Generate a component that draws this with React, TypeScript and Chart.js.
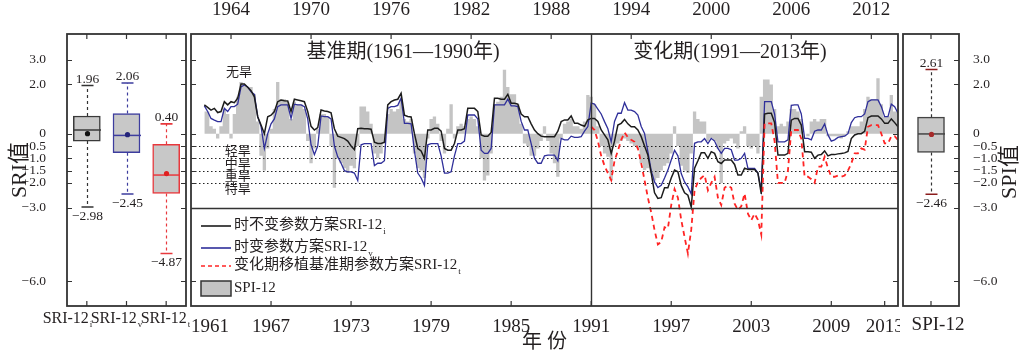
import React, { useEffect, useRef } from 'react';
import { Chart, registerables } from 'chart.js';

Chart.register(...registerables);

const FONT = "'Liberation Serif', 'Noto Sans CJK SC', serif";
const INK = '#231f20';
const FRAME = '#333333';
const BLACK = '#1c1c1c';
const BLUE = '#2f2f9a';
const RED = '#ff2424';
const GRAY = '#c4c4c4';
const BOX_FILL = '#c8c8c8';

Chart.defaults.font.family = FONT;
Chart.defaults.color = INK;

const f = (size: number) => ({ family: FONT, size });

// ---------- axes ----------
const Y_MIN = -7;
const Y_MAX = 4.05;
const yTickValues = [3, 2, 0, -0.5, -1, -1.5, -2, -3, -6];
const droughtLines = [-0.5, -1, -1.5, -2];
const extremeLine = -3;
const X_MIN = 1961;
const X_MAX = 2014;
const bottomYearTicks = [1961, 1967, 1973, 1979, 1985, 1991, 1997, 2003, 2009, 2013, 2014];
const topYearTicks = [1964, 1970, 1976, 1982, 1988, 1994, 2000, 2006, 2012];
const periodSplitYear = 1991;

// ---------- annotations ----------
const periodTitles = ['基准期(1961—1990年)', '变化期(1991—2013年)'];
const periodTitleYears = [1976.9, 2001.4];
const periodTitleLevel = 3.3;
const wetLabel = '无旱';
const wetLabelYear = 1964.6;
const wetLabelLevel = 2.5;
const droughtLabels = ['轻旱', '中旱', '重旱', '特旱'];
const droughtLabelYear = 1964.5;
const droughtLabelLevels = [-0.72, -1.24, -1.76, -2.26];

// ---------- time series (quarterly) ----------
const seriesStart = 1962;
const seriesStep = 0.25;
const sriInvariant = [
  1.17, 1.07, 0.96, 1.03,
  0.86, 0.90, 1.30, 1.17,
  1.30, 1.26, 1.44, 2.02,
  2.02, 1.89, 1.75, 1.50,
  0.69, 0.35, 0.00, 0.69,
  0.75, 0.90, 1.30, 1.37,
  1.34, 1.33, 0.90, 1.40,
  1.37, 1.34, 1.30, 0.90,
  0.30, 0.15, 0.25, 0.96,
  0.92, 0.90, 0.85, 0.20,
  -0.10, -0.15, -0.20, -0.30,
  -0.50, -0.65, 0.20, 0.22,
  0.20, 0.20, 0.18, -0.35,
  -0.40, -0.40, -0.35, 1.17,
  1.30, 1.37, 1.40, 1.64,
  0.75, 0.70, 0.68, 0.00,
  -0.60, -0.70, -1.00, 0.15,
  0.15, 0.22, 0.22, 0.10,
  -0.60, -0.67, -0.67, -0.40,
  0.15, 0.15, 0.20, 1.03,
  1.03, 1.03, 0.90, -0.05,
  -0.10, -0.10, 0.05, 1.44,
  1.44, 1.40, 1.40, 1.60,
  1.24, 1.24, 1.20, 0.80,
  0.69, 0.69, 0.40, 0.15,
  0.00, -0.10, -0.12, -0.12,
  -0.12, -0.12, 0.10, 0.49,
  0.56, 0.56, 0.72, 0.42,
  0.42, 0.35, 0.30, 0.56,
  0.62, 0.62, 0.50, 0.15,
  -0.05, -0.25, -0.80, -0.30,
  0.35, 0.42, 0.58, 0.40,
  0.28, 0.28, 0.15, -0.12,
  -0.50, -0.87, -1.60, -2.40,
  -2.63, -2.60, -2.20, -2.20,
  -1.80, -1.48, -1.55, -2.10,
  -2.40, -2.50, -2.98, -1.40,
  -1.10, -0.77, -0.77, -1.00,
  -0.73, -0.80, -1.14, -1.21,
  -1.07, -1.07, -1.07, -1.25,
  -1.68, -1.68, -1.40, -1.45,
  -1.45, -1.45, -1.60, -2.45,
  0.80, 0.83, 0.83, 0.45,
  -0.87, -0.87, -0.87, -0.80,
  0.55, 0.62, 0.62, 0.35,
  -0.73, -0.73, -0.75, -1.00,
  -0.87, -0.85, -0.70, -0.90,
  -0.85, -0.85, -0.82, -0.80,
  -0.78, -0.72, -0.20, -0.05,
  0.00, 0.00, 0.10, 0.65,
  0.72, 0.72, 0.72, 0.60,
  0.42, 0.42, 0.60, 0.45,
  0.28,
];
const sriVarying = [
  1.13, 0.90, 0.62, 0.55,
  0.49, 0.49, 1.03, 0.90,
  1.10, 1.10, 1.20, 1.90,
  1.98, 1.90, 1.70, 1.60,
  0.69, 0.30, -0.60, 0.00,
  0.40, 0.60, 1.10, 1.17,
  1.17, 1.17, 0.62, 1.20,
  1.17, 1.17, 1.10, 0.60,
  -0.45, -0.85, -0.50, 0.72,
  0.69, 0.69, 0.60, -0.50,
  -0.94, -1.20, -1.50, -1.55,
  -1.55, -1.60, -1.90, -0.45,
  -0.40, -0.40, -0.40, -1.30,
  -1.20, -1.20, -1.10, 1.03,
  1.10, 1.10, 1.15, 1.45,
  0.42, 0.42, 0.40, -0.70,
  -1.60, -1.80, -2.10, -0.45,
  -0.40, -0.40, -0.40, -0.90,
  -1.60, -1.60, -1.55, -0.90,
  -0.40, -0.40, -0.30, 0.76,
  0.76, 0.76, 0.60, -0.67,
  -0.80, -0.80, -0.60, 1.17,
  1.17, 1.17, 1.17, 1.40,
  1.13, 1.13, 1.10, 0.50,
  0.15, 0.15, -0.40, -1.00,
  -1.20, -1.20, -0.90, -0.87,
  -0.87, -0.87, -1.10, -0.19,
  -0.25, -0.25, -0.10, -0.15,
  -0.15, -0.12, 0.10, 0.29,
  1.24, 1.20, 1.00, 0.80,
  0.49, 0.20, -0.33, 0.50,
  0.83, 0.83, 1.26, 0.96,
  0.96, 0.90, 0.76, 0.29,
  0.01, -0.73, -1.50, -1.96,
  -2.19, -2.10, -1.80, -1.48,
  -1.07, -0.67, -0.90, -1.62,
  -1.96, -2.16, -2.45, -0.39,
  -0.33, -0.33, -0.20, -0.40,
  -0.19, -0.30, -0.60, -0.80,
  -0.60, -0.60, -0.65, -1.07,
  -1.07, -1.00, -0.80, -1.41,
  -1.41, -1.41, -1.60, -2.30,
  1.30, 1.30, 1.30, 0.80,
  -0.33, -0.33, -0.33, -0.25,
  1.15, 1.17, 1.17, 0.80,
  -0.19, -0.19, -0.25, 0.10,
  0.15, 0.15, 0.40, -0.05,
  -0.30, -0.25, -0.15, -0.12,
  -0.10, 0.00, 0.45, 0.65,
  0.69, 0.69, 0.80, 1.30,
  1.37, 1.37, 1.37, 1.10,
  0.69, 0.69, 1.20, 1.10,
  0.83,
];
const transplantStart = 1991;
const sriTransplant = [
  0.29, 0.15, -0.30, -0.90,
  -1.30, -1.60, -1.89, -1.10,
  -0.70, -0.25, 0.05, -0.15,
  -0.25, -0.33, -0.60, -1.20,
  -1.89, -2.60, -3.20, -3.92,
  -4.50, -4.40, -3.80, -3.85,
  -2.90, -2.25, -2.60, -3.50,
  -4.20, -4.87, -3.90, -2.30,
  -1.96, -1.80, -1.68, -2.30,
  -2.00, -1.75, -2.60, -2.90,
  -2.20, -2.10, -2.20, -2.84,
  -3.10, -2.95, -2.43, -3.25,
  -3.52, -3.25, -3.50, -4.10,
  0.42, 0.42, 0.42, -0.30,
  -2.00, -2.00, -2.00, -1.50,
  0.15, 0.15, 0.15, -0.20,
  -1.75, -1.75, -1.85, -2.00,
  -1.34, -1.34, -0.94, -1.40,
  -1.75, -1.75, -1.70, -1.75,
  -1.70, -1.50, -1.21, -0.80,
  -0.80, -0.60, -0.65, 0.28,
  0.35, 0.35, 0.35, 0.00,
  -0.39, -0.40, -0.10, -0.10,
  -0.26,
];
const spi12 = [
  0.9, 0.9, 0.3, 0.2,
  -0.2, 0.3, 1.0, 0.8,
  -0.2, 0.8, 1.5, 2.1,
  2.0, 1.9, 1.9, 1.6,
  0.5, -0.9, -1.5, -0.6,
  0.2, 1.0, 2.1, 1.4,
  1.4, 1.3, 0.6, 1.3,
  1.2, 1.2, 1.0, -0.3,
  -1.2, -0.6, 0.2, 0.8,
  0.8, 0.7, -0.5, -2.2,
  -1.0, -1.2, -1.4, -1.6,
  -1.3, -1.4, -0.5, 1.1,
  1.1, 0.9, 0.4, -0.8,
  -1.0, -0.8, -0.4, 0.8,
  1.0, 0.9, 1.0, 1.4,
  0.6, 0.5, 0.6, -0.8,
  -1.4, -1.5, -1.8, -0.2,
  0.6, 0.7, 0.4, -0.3,
  -0.8, 0.2, 1.2, -0.2,
  0.3, 0.4, 0.3, 0.6,
  0.7, 0.6, 0.3, -1.0,
  -1.9, -1.7, -0.8, 1.2,
  1.3, 1.5, 2.6, 1.9,
  1.6, 1.6, 1.2, 0.4,
  -0.4, -0.5, -0.9, -0.9,
  -0.6, -0.3, 0.3, -0.3,
  -0.8, -1.2, -1.75, -0.2,
  0.4, 0.5, 0.6, 0.3,
  0.3, 0.2, 0.5, 1.57,
  1.5, 1.2, 0.3, -0.5,
  -0.8, -0.94, -1.9, -0.5,
  -0.4, -0.3, -0.2, -0.3,
  -0.4, -0.5, -0.6, -1.2,
  -1.48, -1.4, -1.6, -1.9,
  -1.8, -1.5, -1.3, -1.2,
  -0.8, 0.3, -0.5, -1.3,
  -1.5, -1.6, -0.8, 0.9,
  0.6, 0.5, 0.5, -0.3,
  -0.2, -0.3, -0.6, -2.0,
  -0.4, -0.3, -0.2, -0.4,
  -0.6, 0.1, 0.3, -0.5,
  -0.6, -0.5, -0.8, 1.5,
  2.2, 2.2, 2.0, 1.0,
  0.3, 0.4, 0.3, 0.5,
  1.0, 1.0, 0.9, 0.6,
  0.0, -0.1, 0.5, 0.6,
  0.5, 0.6, 0.6, -0.1,
  -0.1, -0.1, -0.1, -0.2,
  -0.1, 0.1, 0.3, 0.3,
  0.3, 0.5, 1.0, 1.5,
  1.4, 1.4, 2.25, 1.2,
  0.7, 0.7, 1.57, 0.9,
  0.9,
];

// ---------- legend ----------
const legendNames = ['时不变参数方案SRI-12', '时变参数方案SRI-12', '变化期移植基准期参数方案SRI-12', 'SPI-12'];
const legendSubs = ['i', 'v', 't', ''];

// ---------- box plots ----------
const boxCategories = ['SRI-12', 'SRI-12', 'SRI-12'];
const boxSubs = ['i', 'v', 't'];
const boxMin = [-2.98, -2.45, -4.87];
const boxQ1 = [-0.30, -0.77, -2.43];
const boxMedian = [0.15, -0.07, -1.68];
const boxQ3 = [0.72, 0.82, -0.43];
const boxMax = [1.96, 2.06, 0.40];
const boxMean = [0.0, -0.04, -1.62];
const boxEdgeColors = ['#3a3a3a', '#3d3d9e', '#e8383d'];
const boxWhiskerColors = ['#333333', '#3d3d9e', '#e8383d'];
const boxCapColors = ['#333333', '#3d3d9e', '#e8383d'];
const boxMeanColors = ['#111111', '#24247a', '#e02020'];

const spiCategories = ['SPI-12'];
const spiMin = [-2.46];
const spiQ1 = [-0.76];
const spiMedian = [-0.01];
const spiQ3 = [0.67];
const spiMax = [2.61];
const spiMean = [-0.03];
const spiEdgeColors = ['#444444'];
const spiWhiskerColors = ['#333333'];
const spiCapColors = ['#8c1c1c'];
const spiMeanColors = ['#a52a2a'];

// ---------- helpers ----------
function toPoints(start: number, step: number, values: number[]) {
  return values.map((v, i) => ({ x: start + i * step, y: v }));
}

function signed(v: number, d: number) {
  if (v === 0) return '0';
  return v < 0 ? '\u2212' + Math.abs(v).toFixed(d) : v.toFixed(d);
}

function drawFrame(chart: any, opt: { leftTicks: boolean; rightTicks: boolean; xTop: number[]; xBottom: number[] }) {
  const { ctx, chartArea } = chart;
  const { left, right, top, bottom } = chartArea;
  const y = chart.scales.y;
  const L = 5;
  ctx.save();
  ctx.setLineDash([]);
  ctx.strokeStyle = FRAME;
  ctx.lineWidth = 1.2;
  ctx.beginPath();
  for (const v of yTickValues) {
    const py = Math.round(y.getPixelForValue(v)) + 0.5;
    if (opt.leftTicks) { ctx.moveTo(left, py); ctx.lineTo(left + L, py); }
    if (opt.rightTicks) { ctx.moveTo(right, py); ctx.lineTo(right - L, py); }
  }
  for (const px of opt.xTop) { ctx.moveTo(px, top); ctx.lineTo(px, top + L); }
  for (const px of opt.xBottom) { ctx.moveTo(px, bottom); ctx.lineTo(px, bottom - L); }
  ctx.stroke();
  ctx.lineWidth = 1.8;
  ctx.strokeRect(left, top, right - left, bottom - top);
  ctx.restore();
}

function makeBoxPlugin(id: string, s: any, c: any, frameOpt: { leftTicks: boolean; rightTicks: boolean }) {
  return {
    id,
    afterDatasetsDraw(chart: any) {
      const { ctx } = chart;
      const xs = chart.scales.x;
      const ys = chart.scales.y;
      const p = (v: number) => ys.getPixelForValue(v);
      s.min.forEach((_: number, i: number) => {
        const cx = Math.round(xs.getPixelForValue(i)) + 0.5;
        ctx.save();
        ctx.strokeStyle = c.whisker[i];
        ctx.lineWidth = 1.2;
        ctx.setLineDash([3, 3]);
        ctx.beginPath();
        ctx.moveTo(cx, p(s.q3[i]));
        ctx.lineTo(cx, p(s.max[i]));
        ctx.moveTo(cx, p(s.q1[i]));
        ctx.lineTo(cx, p(s.min[i]));
        ctx.stroke();
        ctx.setLineDash([]);
        ctx.strokeStyle = c.cap[i];
        ctx.lineWidth = 1.6;
        ctx.beginPath();
        ctx.moveTo(cx - 6, p(s.max[i]));
        ctx.lineTo(cx + 6, p(s.max[i]));
        ctx.moveTo(cx - 6, p(s.min[i]));
        ctx.lineTo(cx + 6, p(s.min[i]));
        ctx.stroke();
        ctx.strokeStyle = c.edge[i];
        ctx.lineWidth = 1.5;
        ctx.beginPath();
        ctx.moveTo(cx - 13.5, p(s.med[i]));
        ctx.lineTo(cx + 13.5, p(s.med[i]));
        ctx.stroke();
        ctx.fillStyle = c.mean[i];
        ctx.beginPath();
        ctx.arc(cx, p(s.mean[i]), 2.6, 0, Math.PI * 2);
        ctx.fill();
        ctx.fillStyle = INK;
        ctx.font = `13.5px ${FONT}`;
        ctx.textAlign = 'center';
        ctx.textBaseline = 'alphabetic';
        ctx.fillText(signed(s.max[i], 2), cx, p(s.max[i]) - 2.5);
        ctx.fillText(signed(s.min[i], 2), cx, p(s.min[i]) + 12.5);
        ctx.restore();
      });
    },
    afterDraw(chart: any) {
      const xs = chart.scales.x;
      const pos = s.min.map((_: number, i: number) => xs.getPixelForValue(i));
      drawFrame(chart, { ...frameOpt, xTop: pos, xBottom: pos });
    },
  };
}

const leftLabelPlugin = {
  id: 'leftLabels',
  afterDraw(chart: any) {
    const { ctx, chartArea: { left, right, bottom } } = chart;
    const start = left - 24;
    const slot = (right + 4 - start) / boxCategories.length;
    ctx.save();
    ctx.fillStyle = INK;
    ctx.textBaseline = 'alphabetic';
    boxCategories.forEach((name, i) => {
      ctx.font = `16px ${FONT}`;
      const w = ctx.measureText(name).width;
      ctx.font = `9px ${FONT}`;
      const sw = ctx.measureText(boxSubs[i]).width;
      const x0 = start + slot * (i + 0.5) - (w + sw + 1) / 2;
      ctx.font = `16px ${FONT}`;
      ctx.textAlign = 'left';
      ctx.fillText(name, x0, bottom + 17);
      ctx.font = `9px ${FONT}`;
      ctx.fillText(boxSubs[i], x0 + w + 1, bottom + 21);
    });
    ctx.restore();
  },
};

const rightTitlePlugin = {
  id: 'rightTitle',
  afterDraw(chart: any) {
    const { ctx, chartArea: { right, top, bottom } } = chart;
    ctx.save();
    ctx.translate(right + 51, (top + bottom) / 2 + 2);
    ctx.rotate(-Math.PI / 2);
    ctx.font = `22px ${FONT}`;
    ctx.fillStyle = INK;
    ctx.textAlign = 'center';
    ctx.textBaseline = 'middle';
    ctx.fillText('SPI值', 0, 0);
    ctx.restore();
  },
};

const SPI_INDEX = 3;
const mainPlugin = {
  id: 'mainDecor',
  afterDatasetDraw(chart: any, args: any) {
    if (args.index !== SPI_INDEX) return;
    const { ctx, chartArea: { left, right } } = chart;
    const y = chart.scales.y;
    ctx.save();
    ctx.strokeStyle = '#222';
    ctx.lineWidth = 1.2;
    ctx.setLineDash([1.5, 2.5]);
    ctx.beginPath();
    for (const v of droughtLines) {
      const py = Math.round(y.getPixelForValue(v)) + 0.5;
      ctx.moveTo(left, py);
      ctx.lineTo(right, py);
    }
    ctx.stroke();
    ctx.restore();
  },
  afterDraw(chart: any) {
    const { ctx, chartArea: { left, right, top, bottom } } = chart;
    const x = chart.scales.x;
    const x2 = chart.scales.x2;
    const y = chart.scales.y;
    ctx.save();
    ctx.setLineDash([]);
    ctx.strokeStyle = FRAME;
    ctx.lineWidth = 1.4;
    ctx.beginPath();
    const py = Math.round(y.getPixelForValue(extremeLine)) + 0.5;
    ctx.moveTo(left, py);
    ctx.lineTo(right, py);
    const sx = Math.round(x.getPixelForValue(periodSplitYear)) + 0.5;
    ctx.moveTo(sx, top);
    ctx.lineTo(sx, bottom);
    ctx.stroke();
    ctx.restore();

    drawFrame(chart, {
      leftTicks: true,
      rightTicks: true,
      xTop: topYearTicks.map((v) => x2.getPixelForValue(v)),
      xBottom: bottomYearTicks.filter((v) => v > X_MIN && v < X_MAX).map((v) => x.getPixelForValue(v)),
    });

    ctx.save();
    ctx.fillStyle = INK;
    ctx.textAlign = 'center';
    ctx.textBaseline = 'middle';
    ctx.font = `20px ${FONT}`;
    periodTitles.forEach((t, i) => {
      ctx.fillText(t, x.getPixelForValue(periodTitleYears[i]), y.getPixelForValue(periodTitleLevel));
    });
    ctx.font = `13px ${FONT}`;
    ctx.fillText(wetLabel, x.getPixelForValue(wetLabelYear), y.getPixelForValue(wetLabelLevel));
    droughtLabels.forEach((t, i) => {
      ctx.fillText(t, x.getPixelForValue(droughtLabelYear), y.getPixelForValue(droughtLabelLevels[i]));
    });

    // legend
    const rowY = [bottom - 81, bottom - 59, bottom - 41, bottom - 18];
    const colors = [BLACK, BLUE, RED];
    legendNames.forEach((name, i) => {
      const ry = rowY[i];
      if (i < 3) {
        ctx.strokeStyle = colors[i];
        ctx.lineWidth = 1.6;
        ctx.setLineDash(i === 2 ? [4, 3] : []);
        ctx.beginPath();
        ctx.moveTo(left + 10, ry + 1);
        ctx.lineTo(left + 40, ry + 1);
        ctx.stroke();
      } else {
        ctx.setLineDash([]);
        ctx.fillStyle = GRAY;
        ctx.fillRect(left + 10, ry - 7, 30, 15);
        ctx.strokeStyle = FRAME;
        ctx.lineWidth = 1.5;
        ctx.strokeRect(left + 10, ry - 7, 30, 15);
      }
      ctx.setLineDash([]);
      ctx.fillStyle = INK;
      ctx.textAlign = 'left';
      ctx.textBaseline = 'middle';
      ctx.font = `15px ${FONT}`;
      ctx.fillText(name, left + 43, ry);
      if (legendSubs[i]) {
        const w = ctx.measureText(name).width;
        ctx.font = `9px ${FONT}`;
        ctx.fillText(legendSubs[i], left + 44 + w, ry + 7);
      }
    });
    ctx.restore();
  },
};

const yScaleBase = (position: string, padding: number, width: number) => ({
  position,
  min: Y_MIN,
  max: Y_MAX,
  afterBuildTicks: (s: any) => {
    s.ticks = yTickValues.map((v) => ({ value: v }));
  },
  grid: { display: false },
  border: { display: false },
  ticks: {
    autoSkip: false,
    padding,
    font: f(13.5),
    color: INK,
    callback: (v: any) => signed(Number(v), 1),
  },
  afterFit: (s: any) => {
    s.width = width;
  },
});

function leftConfig(): any {
  return {
    type: 'bar',
    data: {
      labels: boxCategories.map((c, i) => c + boxSubs[i]),
      datasets: [
        {
          data: boxQ1.map((q, i) => [q, boxQ3[i]]),
          backgroundColor: BOX_FILL,
          borderColor: boxEdgeColors,
          borderWidth: 1.5,
          borderSkipped: false,
          barThickness: 27,
        },
      ],
    },
    options: {
      responsive: false,
      animation: false,
      events: [],
      layout: { padding: { top: 34, right: 4, left: 0, bottom: 0 } },
      plugins: { legend: { display: false }, tooltip: { enabled: false } },
      scales: {
        x: {
          grid: { display: false },
          border: { display: false },
          ticks: { display: false },
          afterFit: (s: any) => {
            s.height = 56;
          },
        },
        y: {
          ...yScaleBase('left', 13, 67),
          title: { display: true, text: 'SRI值', font: f(22), color: INK, padding: { top: 7, bottom: 0 } },
        },
      },
    },
    plugins: [
      makeBoxPlugin(
        'leftBoxes',
        { min: boxMin, q1: boxQ1, med: boxMedian, q3: boxQ3, max: boxMax, mean: boxMean },
        { edge: boxEdgeColors, whisker: boxWhiskerColors, cap: boxCapColors, mean: boxMeanColors },
        { leftTicks: true, rightTicks: true }
      ),
      leftLabelPlugin,
    ],
  };
}

function rightConfig(): any {
  return {
    type: 'bar',
    data: {
      labels: spiCategories,
      datasets: [
        {
          data: spiQ1.map((q, i) => [q, spiQ3[i]]),
          backgroundColor: BOX_FILL,
          borderColor: spiEdgeColors,
          borderWidth: 1.5,
          borderSkipped: false,
          barThickness: 27,
        },
      ],
    },
    options: {
      responsive: false,
      animation: false,
      events: [],
      layout: { padding: { top: 34, right: 0, left: 3, bottom: 0 } },
      plugins: { legend: { display: false }, tooltip: { enabled: false } },
      scales: {
        x: {
          grid: { display: false },
          border: { display: false },
          ticks: { autoSkip: false, maxRotation: 0, padding: 0, labelOffset: 7, font: f(19), color: INK },
          afterFit: (s: any) => {
            s.height = 56;
          },
        },
        y: yScaleBase('right', 6, 63),
      },
    },
    plugins: [
      makeBoxPlugin(
        'rightBoxes',
        { min: spiMin, q1: spiQ1, med: spiMedian, q3: spiQ3, max: spiMax, mean: spiMean },
        { edge: spiEdgeColors, whisker: spiWhiskerColors, cap: spiCapColors, mean: spiMeanColors },
        { leftTicks: false, rightTicks: true }
      ),
      rightTitlePlugin,
    ],
  };
}

function mainConfig(): any {
  return {
    type: 'line',
    data: {
      datasets: [
        {
          label: legendNames[0] + legendSubs[0],
          data: toPoints(seriesStart, seriesStep, sriInvariant),
          borderColor: BLACK,
          borderWidth: 1.5,
          pointRadius: 0,
          tension: 0,
          order: 1,
        },
        {
          label: legendNames[1] + legendSubs[1],
          data: toPoints(seriesStart, seriesStep, sriVarying),
          borderColor: BLUE,
          borderWidth: 1.3,
          pointRadius: 0,
          tension: 0,
          order: 2,
        },
        {
          label: legendNames[2] + legendSubs[2],
          data: toPoints(transplantStart, seriesStep, sriTransplant),
          borderColor: RED,
          borderWidth: 1.8,
          borderDash: [5, 4],
          pointRadius: 0,
          tension: 0,
          order: 0,
        },
        {
          label: legendNames[3],
          data: toPoints(seriesStart, seriesStep, spi12),
          borderColor: 'rgba(0,0,0,0)',
          borderWidth: 0,
          backgroundColor: GRAY,
          fill: 'origin',
          stepped: 'middle',
          pointRadius: 0,
          order: 3,
        },
      ],
    },
    options: {
      responsive: false,
      animation: false,
      events: [],
      layout: { padding: { left: 3, right: 2, top: 0, bottom: 0 } },
      plugins: { legend: { display: false }, tooltip: { enabled: false } },
      scales: {
        x: {
          type: 'linear',
          position: 'bottom',
          min: X_MIN,
          max: X_MAX,
          afterBuildTicks: (s: any) => {
            s.ticks = bottomYearTicks.map((v) => ({ value: v }));
          },
          grid: { display: false },
          border: { display: false },
          ticks: {
            autoSkip: false,
            maxRotation: 0,
            align: 'inner',
            padding: 2,
            font: f(19),
            color: INK,
            callback: (v: any) => (Number(v) === X_MAX ? '' : String(v)),
          },
          title: { display: true, text: '年 份', font: f(20), color: INK, padding: { top: 0, bottom: 7 } },
          afterFit: (s: any) => {
            s.height = 56;
          },
        },
        x2: {
          type: 'linear',
          position: 'top',
          min: X_MIN,
          max: X_MAX,
          afterBuildTicks: (s: any) => {
            s.ticks = topYearTicks.map((v) => ({ value: v }));
          },
          grid: { display: false },
          border: { display: false },
          ticks: {
            autoSkip: false,
            maxRotation: 0,
            padding: 5,
            font: f(19),
            color: INK,
            callback: (v: any) => String(v),
          },
          afterFit: (s: any) => {
            s.height = 34;
          },
        },
        y: { display: false, min: Y_MIN, max: Y_MAX },
      },
    },
    plugins: [mainPlugin],
  };
}

export default function App() {
  const leftRef = useRef<HTMLCanvasElement>(null);
  const mainRef = useRef<HTMLCanvasElement>(null);
  const rightRef = useRef<HTMLCanvasElement>(null);

  useEffect(() => {
    const charts = [
      new Chart(leftRef.current as HTMLCanvasElement, leftConfig()),
      new Chart(mainRef.current as HTMLCanvasElement, mainConfig()),
      new Chart(rightRef.current as HTMLCanvasElement, rightConfig()),
    ];
    return () => charts.forEach((c) => c.destroy());
  }, []);

  return (
    <div style={{ position: 'absolute', left: 0, top: 0, width: 1022, height: 362, background: '#ffffff', overflow: 'hidden' }}>
      <canvas ref={leftRef} width={190} height={362} style={{ position: 'absolute', left: 0, top: 0, width: 190, height: 362 }} />
      <canvas ref={mainRef} width={712} height={362} style={{ position: 'absolute', left: 188, top: 0, width: 712, height: 362 }} />
      <canvas ref={rightRef} width={122} height={362} style={{ position: 'absolute', left: 900, top: 0, width: 122, height: 362 }} />
    </div>
  );
}
